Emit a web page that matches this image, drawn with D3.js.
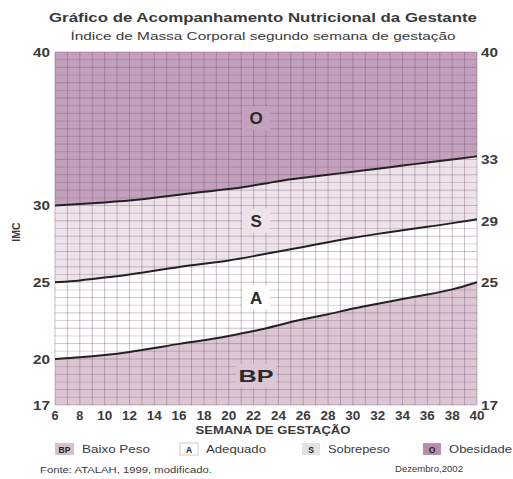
<!DOCTYPE html>
<html>
<head>
<meta charset="utf-8">
<script src="https://cdn.jsdelivr.net/npm/d3@7"></script>
<style>
  body { margin: 0; background: #fff; }
  text { font-family: "Liberation Sans", Arial, sans-serif; fill: #3a3a3a; }
</style>
</head>
<body>
<div id="chart"></div>
<script>
// semanas de gestação e limites de IMC
const weeks = [6, 8, 10, 12, 14, 16, 18, 20, 22, 24, 26, 28, 30, 32, 34, 36, 38, 40];
const limBaixoPeso = [20.0, 20.1, 20.25, 20.45, 20.7, 21.0, 21.2, 21.5, 21.8, 22.2, 22.6, 22.9, 23.3, 23.6, 23.9, 24.2, 24.5, 25.0];
const limAdequado = [25.0, 25.1, 25.3, 25.5, 25.75, 26.0, 26.2, 26.4, 26.7, 27.0, 27.3, 27.6, 27.9, 28.15, 28.4, 28.6, 28.85, 29.1];
const limSobrepeso = [30.0, 30.1, 30.2, 30.3, 30.5, 30.7, 30.9, 31.05, 31.3, 31.6, 31.8, 32.0, 32.2, 32.4, 32.6, 32.8, 33.0, 33.2];

const leftTicks = [17, 20, 25, 30, 40];
const rightTicks = [17, 25, 29, 33, 40];
const weekTicks = [6, 8, 10, 12, 14, 16, 18, 20, 22, 24, 26, 28, 30, 32, 34, 36, 38, 40];

const zoneLabels = ["BP", "A", "S", "O"];
const zoneLabelY = [18.9, 24.0, 29.0, 35.7];
const legendCodes = ["BP", "A", "S", "O"];
const legendNames = ["Baixo Peso", "Adequado", "Sobrepeso", "Obesidade"];

const cor = { bp: "#dcc6d5", a: "#ffffff", s: "#efe3eb", o: "#c3a0bb" };

const W = 513, H = 479;
const svg = d3.select("#chart").append("svg").attr("width", W).attr("height", H);

const x = d3.scaleLinear().domain([6, 40]).range([55, 477]);
const y = d3.scaleLinear().domain([17, 40]).range([405, 52]);

const rows = weeks.map((w, i) => ({ w, bp: limBaixoPeso[i], a: limAdequado[i], s: limSobrepeso[i] }));
const curve = d3.curveBasis;

// texto com largura fixa (a fonte original é mais larga)
function txt(xp, yp, s, size, width, opts = {}) {
    const t = svg.append("text").attr("x", xp).attr("y", yp).attr("font-size", size)
        .attr("text-anchor", opts.anchor || "start").text(s);
    if (opts.bold) t.attr("font-weight", "bold");
    if (width) t.attr("textLength", width).attr("lengthAdjust", "spacingAndGlyphs");
    return t;
}

svg.append("rect").attr("x", x(6)).attr("y", y(40))
    .attr("width", x(40) - x(6)).attr("height", y(17) - y(40)).attr("fill", "#fff");

// zonas
const area = (lo, hi) => d3.area().x(d => x(d.w)).y0(lo).y1(hi).curve(curve);
svg.append("path").datum(rows).attr("fill", cor.bp).attr("d", area(() => y(17), d => y(d.bp)));
svg.append("path").datum(rows).attr("fill", cor.s).attr("d", area(d => y(d.a), d => y(d.s)));
svg.append("path").datum(rows).attr("fill", cor.o).attr("d", area(d => y(d.s), () => y(40)));

// grade
const grid = svg.append("g");
d3.range(6, 41, 1).forEach(w => {
    grid.append("line").attr("x1", x(w)).attr("x2", x(w)).attr("y1", y(17)).attr("y2", y(40))
        .attr("stroke", "#6b4a63").attr("stroke-opacity", 0.36).attr("stroke-width", 1);
});
d3.range(17, 40.01, 0.5).forEach(v => {
    grid.append("line").attr("x1", x(6)).attr("x2", x(40)).attr("y1", y(v)).attr("y2", y(v))
        .attr("stroke", "#6b4a63").attr("stroke-opacity", Number.isInteger(v) ? 0.34 : 0.24).attr("stroke-width", 1);
});

// linhas limite
const line = key => d3.line().x(d => x(d.w)).y(d => y(d[key])).curve(curve);
["bp", "a", "s"].forEach(k => {
    svg.append("path").datum(rows).attr("fill", "none").attr("stroke", "#222")
        .attr("stroke-width", 2).attr("d", line(k));
});

// rótulos das zonas
const zoneFill = [cor.bp, cor.a, cor.s, cor.o];
zoneLabels.forEach((t, i) => {
    const cx = x(22.2), cy = y(zoneLabelY[i]);
    const bw = t.length > 1 ? 40 : 28;
    svg.append("rect").attr("x", cx - bw / 2).attr("y", cy - 12).attr("width", bw).attr("height", 24)
        .attr("fill", zoneFill[i]);
    txt(cx, cy + 6, t, 17, t.length > 1 ? 35 : null, { anchor: "middle", bold: true }).style("fill", "#2a2a2a");
});

// eixos
leftTicks.forEach(d => txt(50, y(d) + 5, d, 13, 17, { anchor: "end", bold: true }));
rightTicks.forEach(d => txt(481, y(d) + 5, d, 13, 17, { bold: true }));
weekTicks.forEach(d => txt(x(d), 420, d, 12, d < 10 ? 7 : 15, { anchor: "middle", bold: true }));

txt(273, 434, "SEMANA DE GESTAÇÃO", 10.5, 155, { anchor: "middle", bold: true });
svg.append("text").attr("transform", "translate(20,232) rotate(-90)").attr("text-anchor", "middle")
    .attr("font-size", 10.5).attr("font-weight", "bold").text("IMC");

// títulos
txt(263, 22, "Gráfico de Acompanhamento Nutricional da Gestante", 13.5, 428, { anchor: "middle", bold: true });
txt(263, 40, "Índice de Massa Corporal segundo semana de gestação", 11.5, 385, { anchor: "middle" });

// legenda
const legX = [55, 180, 302, 423];
const legFill = ["#d7bfcf", "#ffffff", "#e2e2e2", "#b88dae"];
const legTextW = [68, 60, 62, 63];
legendCodes.forEach((c, i) => {
    const bw = c.length > 1 ? 19 : 18;
    svg.append("rect").attr("x", legX[i]).attr("y", 443).attr("width", bw).attr("height", 12)
        .attr("fill", legFill[i]).attr("stroke", i === 1 ? "#ccc" : "none");
    txt(legX[i] + bw / 2, 452.5, c, 8.5, null, { anchor: "middle", bold: true }).style("fill", "#222");
    txt(legX[i] + bw + 8, 453, legendNames[i], 11.5, legTextW[i]);
});

// rodapé
txt(40, 473, "Fonte: ATALAH, 1999, modificado.", 9, 172);
txt(463, 472, "Dezembro,2002", 9, 68, { anchor: "end" });
</script>
</body>
</html>
